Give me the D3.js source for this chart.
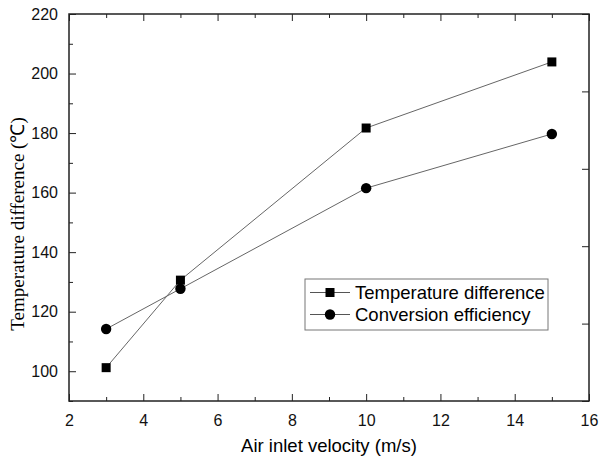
<!DOCTYPE html>
<html>
<head>
<meta charset="utf-8">
<script src="https://cdn.jsdelivr.net/npm/d3@7"></script>
<style>
  body { margin: 0; background: #fff; }
  .axis text { font-family: "Liberation Sans", Arial, sans-serif; font-size: 16px; fill: #111; }
  .axis path, .axis line { stroke: #222; }
</style>
</head>
<body>
<div id="chart-area"></div>
<script>
// data
const velocity = [3, 5, 10, 15];
const tempDiff = [101.2, 130.6, 181.7, 203.9];
const efficiency = [0.93, 1.45, 2.75, 3.45];

const xMajor = [2, 4, 6, 8, 10, 12, 14, 16];
const xMinor = [3, 5, 7, 9, 11, 13, 15];
const yMajor = [100, 120, 140, 160, 180, 200, 220];
const yMinor = [90, 110, 130, 150, 170, 190, 210];
const rMajor = [0, 2, 4];
const rMinor = [1, 3, 5];

let margin = {top: 14, right: 10, bottom: 59, left: 69},
  width = 599 - margin.left - margin.right,
  height = 460 - margin.top - margin.bottom;

let svg = d3.select("#chart-area")
  .append("svg")
  .attr("width", 599)
  .attr("height", 460)
  .append("g")
  .attr("transform", "translate(" + margin.left + "," + margin.top + ")");

let x = d3.scaleLinear().domain([2, 16]).range([0, width]);
let y = d3.scaleLinear().domain([90, 220]).range([height, 0]);
let yR = d3.scaleLinear().domain([0, 5]).range([height, 0]);

// bottom axis
svg.append("g").attr("class", "axis")
  .attr("transform", "translate(0," + height + ")")
  .call(d3.axisBottom(x).tickValues(xMajor).tickSizeInner(-7).tickSizeOuter(0).tickPadding(14))
  .call(g => g.select(".domain").remove());
svg.append("g").attr("class", "axis")
  .attr("transform", "translate(0," + height + ")")
  .call(d3.axisBottom(x).tickValues(xMinor).tickSizeInner(-4).tickSizeOuter(0).tickFormat(""))
  .call(g => g.select(".domain").remove());

// top axis
svg.append("g").attr("class", "axis")
  .call(d3.axisTop(x).tickValues(xMajor).tickSizeInner(-7).tickSizeOuter(0).tickFormat(""))
  .call(g => g.select(".domain").remove());
svg.append("g").attr("class", "axis")
  .call(d3.axisTop(x).tickValues(xMinor).tickSizeInner(-4).tickSizeOuter(0).tickFormat(""))
  .call(g => g.select(".domain").remove());

// left axis
svg.append("g").attr("class", "axis")
  .call(d3.axisLeft(y).tickValues(yMajor).tickSizeInner(-7).tickSizeOuter(0).tickPadding(11))
  .call(g => g.select(".domain").remove());
svg.append("g").attr("class", "axis")
  .call(d3.axisLeft(y).tickValues(yMinor).tickSizeInner(-4).tickSizeOuter(0).tickFormat(""))
  .call(g => g.select(".domain").remove());

// right axis (labels fall outside the picture)
svg.append("g").attr("class", "axis")
  .attr("transform", "translate(" + width + ",0)")
  .call(d3.axisRight(yR).tickValues(rMajor).tickSizeInner(-7).tickSizeOuter(0).tickPadding(14))
  .call(g => g.select(".domain").remove());
svg.append("g").attr("class", "axis")
  .attr("transform", "translate(" + width + ",0)")
  .call(d3.axisRight(yR).tickValues(rMinor).tickSizeInner(-7).tickSizeOuter(0).tickFormat(""))
  .call(g => g.select(".domain").remove());

// frame
svg.append("rect")
  .attr("width", width)
  .attr("height", height)
  .attr("fill", "none")
  .attr("stroke", "#222")
  .attr("stroke-width", 1.5);

let tempPts = velocity.map((v, i) => [x(v), y(tempDiff[i])]);
let effPts = velocity.map((v, i) => [x(v), yR(efficiency[i])]);

svg.append("path")
  .attr("d", d3.line()(tempPts))
  .attr("fill", "none")
  .attr("stroke", "#666")
  .attr("stroke-width", 1);
svg.append("path")
  .attr("d", d3.line()(effPts))
  .attr("fill", "none")
  .attr("stroke", "#666")
  .attr("stroke-width", 1);

svg.selectAll(".sq")
  .data(tempPts)
  .enter()
  .append("rect")
  .attr("class", "sq")
  .attr("x", d => d[0] - 4.5)
  .attr("y", d => d[1] - 4.5)
  .attr("width", 9)
  .attr("height", 9)
  .attr("fill", "#000");

svg.selectAll(".dot")
  .data(effPts)
  .enter()
  .append("circle")
  .attr("class", "dot")
  .attr("cx", d => d[0])
  .attr("cy", d => d[1])
  .attr("r", 5.2)
  .attr("fill", "#000");

// axis titles
svg.append("text")
  .attr("x", width / 2)
  .attr("y", height + 51)
  .style("text-anchor", "middle")
  .style("font-family", "'Liberation Sans', Arial, sans-serif")
  .style("font-size", "18.5px")
  .text("Air inlet velocity (m/s)");

svg.append("text")
  .attr("transform", "rotate(-90)")
  .attr("x", -(224 - margin.top))
  .attr("y", -margin.left + 24)
  .style("text-anchor", "middle")
  .style("font-family", "'Liberation Serif', 'Times New Roman', serif")
  .style("font-size", "19px")
  .text("Temperature difference (℃)");

// legend
let legend = svg.append("g")
  .attr("transform", "translate(" + (305 - margin.left) + "," + (279 - margin.top) + ")");
legend.append("rect")
  .attr("width", 243)
  .attr("height", 51)
  .attr("fill", "#fff")
  .attr("stroke", "#777")
  .attr("stroke-width", 1);

let items = ["Temperature difference", "Conversion efficiency"];
items.forEach(function(name, i) {
  let row = legend.append("g").attr("transform", "translate(0," + (13.5 + i * 22) + ")");
  row.append("line")
    .attr("x1", 5).attr("x2", 45)
    .attr("stroke", "#555").attr("stroke-width", 1);
  if (i === 0) {
    row.append("rect").attr("x", 20.5).attr("y", -4.5).attr("width", 9).attr("height", 9).attr("fill", "#000");
  } else {
    row.append("circle").attr("cx", 25).attr("r", 5.2).attr("fill", "#000");
  }
  row.append("text")
    .attr("x", 50)
    .attr("dy", "0.35em")
    .style("font-family", "'Liberation Sans', Arial, sans-serif")
    .style("font-size", "18.5px")
    .text(name);
});
</script>
</body>
</html>
